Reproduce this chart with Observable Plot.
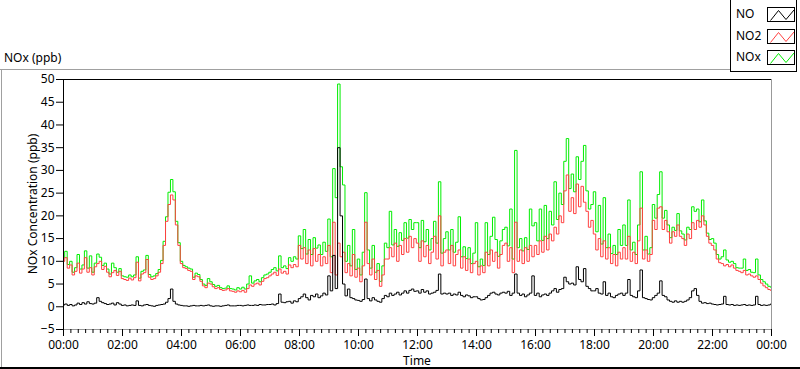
<!DOCTYPE html>
<html><head><meta charset="utf-8">
<script src="https://cdn.jsdelivr.net/npm/d3@7"></script>
<script src="https://cdn.jsdelivr.net/npm/@observablehq/plot@0.6"></script>
<style>
body{margin:0;background:#fff;font-family:"Noto Sans",sans-serif;color:#000;}
#wrap{position:relative;width:800px;height:369px;overflow:hidden;background:#fff;}
#wrap svg{position:absolute;left:0;top:0;}
.abs{position:absolute;}
.txt{font-size:12px;line-height:16px;white-space:nowrap;}
.sw{position:absolute;left:767px;width:28px;height:15px;border:1px solid #000;background:#fff;box-sizing:border-box;}
.sw svg{position:absolute;left:0;top:0;}
</style></head><body><div id="wrap"></div>
<script>
// 5-minute samples, 00:00 to 24:00 (ppb)
const no2 = [
10,10.8,8.5,9.2,7.0,7.8,9.6,7.4,8.3,10.8,7.6,8.6,
7.0,8.8,9.5,10.0,8.2,8.9,7.6,6.6,7.5,8.0,6.9,7.8,
6.2,6.0,5.8,6.3,5.9,6.4,9.8,5.7,7.2,7.5,10.4,6.5,
6.0,6.2,6.8,7.6,9.5,13.5,18.8,22.5,24.6,23.5,18.0,13.5,
9.5,8.6,8.4,8.0,7.8,6.0,6.8,6.6,5.6,4.6,4.2,5.2,
5.0,4.4,4.0,4.2,3.8,3.6,3.7,4.0,3.5,3.4,3.2,3.5,
3.3,3.6,3.2,4.0,4.8,4.5,5.0,5.2,4.8,5.6,6.2,6.4,
6.8,7.2,7.6,6.9,8.3,7.4,7.8,7.2,9.2,8.6,9.3,8.8,
13.5,10.5,13.0,9.5,12.5,9.0,12.8,10.0,11.5,9.0,11.0,9.5,
13.5,7.5,18.6,7.0,14.0,11.0,12.0,7.5,9.5,6.8,11.5,6.5,
8.5,5.5,9.0,18.6,9.5,7.0,10.5,6.0,8.0,4.5,7.0,10.5,
10.5,13.0,11.0,14.0,10.0,13.5,11.5,15.0,12.0,15.5,13.0,15.0,
14.0,10.0,14.5,11.0,13.5,9.5,12.0,15.5,10.5,20.0,9.0,12.0,
12.5,9.5,13.5,9.0,11.5,12.5,8.5,11.0,8.0,10.5,7.5,9.5,
10.0,7.0,9.0,7.5,12.0,9.0,12.5,10.0,12.0,8.5,11.5,13.5,
14.0,10.0,13.0,7.5,18.6,10.0,12.5,9.5,13.0,10.0,13.5,11.0,
13.5,11.5,14.5,12.0,15.5,12.5,16.0,14.5,17.5,16.0,20.0,18.5,
25.5,29.0,21.0,24.0,20.5,27.0,22.0,26.5,23.0,21.0,17.5,19.0,
16.0,12.5,15.0,11.0,14.5,10.5,13.0,9.5,11.5,9.0,12.0,10.5,
13.0,10.5,15.5,10.0,12.0,9.5,14.5,21.7,10.5,12.5,10.0,11.5,
19.0,17.0,21.7,22.0,17.0,19.0,16.5,14.0,16.5,15.5,18.0,15.5,
15.0,13.5,16.0,15.0,18.5,17.0,19.0,17.5,20.0,18.0,15.5,14.0,
13.5,12.5,10.5,9.7,9.5,9.0,9.3,8.8,9.2,8.5,8.0,7.8,
7.5,8.0,7.0,7.2,6.8,6.5,6.8,6.0,5.2,4.6,4.2,3.8,
3.6];
const nox = [
10.8,12.2,9.3,10.0,7.6,8.6,11.5,8.3,9.2,12.3,8.5,11.2,
7.6,9.6,11.6,10.9,9.1,9.6,8.3,7.2,9.6,8.6,7.6,8.4,
6.8,6.6,6.5,7.0,6.6,7.0,11.0,6.3,7.8,8.1,11.3,7.1,
6.6,6.8,7.3,8.2,10.2,14.4,19.8,25.2,28.0,25.3,18.8,14.1,
10.0,9.1,8.8,8.5,8.3,6.5,7.4,7.1,6.0,5.0,4.7,6.2,
5.5,4.9,4.5,4.7,4.2,4.0,4.1,4.6,4.0,3.9,3.7,4.2,
3.9,4.3,3.9,5.0,6.8,5.2,5.7,6.0,5.5,6.4,7.0,7.2,
7.6,8.2,8.6,7.9,11.2,8.6,9.0,8.4,10.8,10.0,11.0,10.5,
15.6,12.8,17.0,11.6,14.8,11.5,15.2,12.9,13.6,11.5,14.2,12.2,
19.3,11.0,30.4,24.0,49.0,30.8,26.8,10.0,13.5,9.0,17.0,8.2,
10.5,7.0,12.0,25.1,12.5,8.5,13.5,7.6,9.5,5.6,9.0,14.0,
13.0,21.0,13.6,17.0,13.3,16.3,14.6,18.5,15.1,19.2,17.0,18.5,
18.5,13.0,19.0,14.3,17.0,12.5,15.0,18.8,14.0,27.5,11.8,15.0,
16.5,12.5,17.0,12.0,14.2,19.8,11.0,13.2,10.6,13.0,9.5,11.8,
18.5,8.8,10.5,9.1,18.5,11.5,15.5,19.7,14.8,11.1,14.5,17.0,
17.5,13.4,21.5,10.5,34.4,13.0,15.0,12.3,15.2,12.6,21.5,17.8,
18.5,14.5,21.5,14.6,22.3,15.0,21.0,18.0,27.5,19.2,25.0,22.5,
32.0,37.0,26.0,29.2,25.3,33.0,28.0,32.0,35.5,25.5,21.5,22.5,
25.3,16.5,22.3,13.8,24.0,13.0,16.0,11.7,13.5,11.5,17.0,13.5,
18.0,13.5,23.5,12.5,14.2,11.5,18.0,29.7,12.5,15.5,11.6,13.0,
22.5,19.5,24.7,29.7,19.5,21.2,18.0,15.2,17.5,16.8,20.5,16.7,
16.0,14.7,17.5,17.0,22.0,21.0,21.5,18.7,23.5,18.9,16.2,14.8,
15.0,14.0,11.5,10.5,11.0,12.5,10.3,9.8,10.0,9.5,8.6,8.5,
8.5,10.5,8.0,8.2,7.6,7.5,10.5,7.0,6.0,5.5,5.0,4.5,
4.3];
const no = [
0.4,0.6,0.3,0.5,0.2,0.4,0.8,0.5,0.9,0.6,1.1,0.7,
0.6,0.8,2.0,1.2,0.9,0.7,0.5,0.6,0.8,0.4,0.9,0.6,
0.3,0.4,0.2,0.3,0.4,0.3,1.3,0.3,0.2,0.4,0.5,0.3,
0.2,0.1,0.3,0.4,0.5,0.6,1.0,1.8,3.9,1.2,0.6,0.4,
0.3,0.2,0.2,0.1,0.2,0.3,0.2,0.2,0.3,0.2,0.3,0.4,
0.2,0.1,0.2,0.2,0.1,0.2,0.3,0.4,0.2,0.2,0.2,0.3,
0.3,0.2,0.3,0.4,0.3,0.3,0.4,0.3,0.5,0.4,0.4,0.5,
0.5,0.6,0.4,0.7,2.8,1.0,0.9,1.1,1.2,0.8,1.3,1.1,
1.8,2.2,2.8,2.0,1.5,2.5,2.2,2.8,2.0,2.4,3.0,2.6,
6.8,3.5,11.3,4.0,35.0,20.0,5.0,2.4,3.9,2.0,1.8,1.5,
1.4,1.2,1.6,6.1,1.8,1.3,2.0,1.5,1.2,1.0,1.8,2.5,
2.2,3.0,2.5,2.8,3.2,2.6,3.0,3.5,3.0,3.6,3.9,3.4,
3.5,3.0,3.8,3.2,3.5,2.8,3.0,3.2,3.6,7.2,2.8,3.0,
2.8,3.0,2.5,2.8,2.6,3.2,2.5,2.2,2.6,2.4,2.0,2.2,
2.2,1.8,1.5,1.6,2.0,2.5,3.0,3.2,2.8,2.6,3.0,3.2,
3.0,3.4,2.5,3.0,7.2,3.0,2.5,2.8,2.2,2.6,3.0,6.8,
2.5,3.0,2.2,2.6,2.8,2.5,3.0,3.5,4.0,3.2,3.8,4.0,
6.5,5.5,5.0,5.2,4.8,8.8,6.0,5.5,8.4,4.5,4.0,3.5,
3.5,4.0,3.0,2.8,5.5,2.5,3.0,2.2,2.0,2.5,2.8,3.0,
2.5,3.0,6.0,2.5,2.2,2.0,3.5,8.1,2.0,1.8,1.6,1.5,
2.0,2.5,3.0,5.7,2.5,2.2,1.5,1.2,1.0,1.3,1.0,1.2,
1.0,1.2,1.5,2.0,3.5,4.0,2.5,1.2,0.8,0.9,0.7,0.8,
0.6,0.5,0.4,0.5,0.6,2.3,0.5,0.4,0.5,0.3,0.4,0.3,
0.4,0.5,0.3,0.4,0.3,0.4,2.3,0.5,0.3,0.4,0.3,0.4,
0.6];
const seriesNames = ["NO", "NO2", "NOx"];
const seriesColors = ["#000000", "#ff4040", "#00ee00"];
const yTicks = [-5, 0, 5, 10, 15, 20, 25, 30, 35, 40, 45, 50];
const xTickHours = [0, 2, 4, 6, 8, 10, 12, 14, 16, 18, 20, 22, 24];
const minorTicks = d3.range(0, 24.001, 0.25).filter(h => h % 2 !== 0);
const fmt = h => String(h % 24).padStart(2, "0") + ":00";
const stepHours = 1 / 12;

const lineOf = (vals, color) => Plot.line(vals, {x: (d, i) => i * stepHours, y: d => d, stroke: color, strokeWidth: 1, curve: "step"});

const chart = Plot.plot({
  width: 800, height: 369,
  marginLeft: 63, marginRight: 29, marginTop: 79, marginBottom: 40,
  style: {fontFamily: "'Noto Sans', sans-serif", fontSize: "12px", background: "transparent", color: "#000"},
  x: {domain: [0, 24], label: null},
  y: {domain: [-5, 50], label: null},
  marks: [
    lineOf(nox, seriesColors[2]),
    lineOf(no2, seriesColors[1]),
    lineOf(no, seriesColors[0]),
    Plot.ruleX([24], {stroke: "#999"}),
    Plot.ruleY([-5], {stroke: "#999"}),
    Plot.ruleY([50], {stroke: "#000"}),
    Plot.ruleX([0], {stroke: "#000"}),
    Plot.axisY({ticks: yTicks, tickSize: 7, tickPadding: 2, label: null}),
    Plot.axisX({ticks: minorTicks, tickSize: 4, tickFormat: () => "", label: null}),
    Plot.axisX({ticks: xTickHours, tickSize: 7, tickPadding: 4, tickFormat: fmt, label: null})
  ]
});
const wrap = document.getElementById("wrap");
wrap.appendChild(chart);

function div(style, text, cls) {
  const d = document.createElement("div");
  d.className = "abs" + (cls ? " " + cls : "");
  Object.assign(d.style, style);
  if (text) d.textContent = text;
  wrap.appendChild(d);
  return d;
}
// outer frame
div({left: "0px", top: "69px", width: "730px", height: "1px", background: "#a0a0a0"});
div({left: "1px", top: "69px", width: "1px", height: "300px", background: "#a0a0a0"});
div({left: "0px", top: "367px", width: "800px", height: "2px", background: "#000"});
// title and axis labels
div({left: "4px", top: "50px"}, "NOx (ppb)", "txt");
div({left: "367px", top: "353px", width: "100px", textAlign: "center"}, "Time", "txt");
div({left: "-67px", top: "196px", width: "200px", textAlign: "center", transform: "rotate(-90deg)"}, "NOx Concentration (ppb)", "txt");
// legend
div({left: "730px", top: "-1px", width: "67px", height: "73px", border: "1px solid #000", boxSizing: "border-box", background: "#fff"});
const swTops = [7, 29, 50];
seriesNames.forEach((name, i) => {
  div({left: "736px", top: (swTops[i] - 1) + "px"}, name, "txt");
  const sw = div({left: "767px", top: swTops[i] + "px"}, null, "sw");
  sw.innerHTML = `<svg width="28" height="15"><polyline points="2.5,12.5 10.5,2.5 18,11.5 26,2" fill="none" stroke="${seriesColors[i]}" stroke-width="1"/></svg>`;
});
</script>
</body></html>
